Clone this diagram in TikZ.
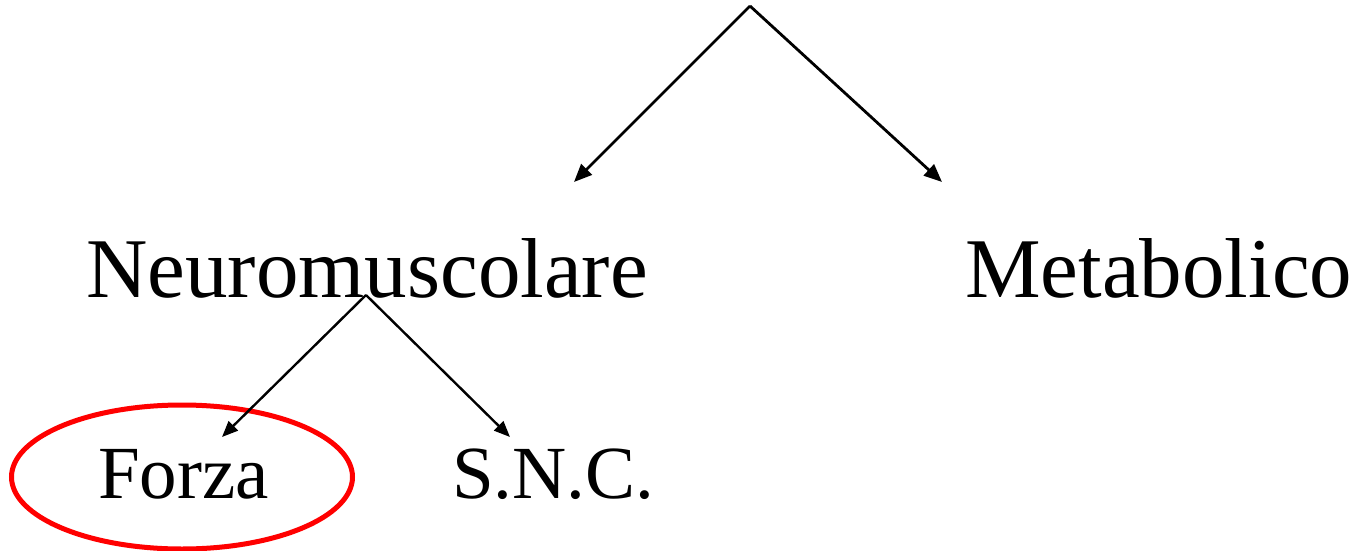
\documentclass[tikz,border=0pt]{standalone}
\usepackage{fontspec}
\setmainfont{Liberation Serif}
\usetikzlibrary{arrows.meta,shapes.geometric}
\tikzset{
  bigtext/.style={anchor=base west,inner sep=0pt,font=\fontsize{85}{100}\selectfont},
  smalltext/.style={anchor=base west,inner sep=0pt,font=\fontsize{75}{88}\selectfont},
  bigarrow/.style={line width=2.8pt,-{Triangle[length=18pt,width=15pt]}},
  smallarrow/.style={line width=2.4pt,-{Triangle[length=16pt,width=13pt]}},
  ring/.style={draw=red,line width=5pt,ellipse,minimum width=341pt,minimum height=144pt,inner sep=0pt}
}
\begin{document}
\begin{tikzpicture}[x=1pt,y=-1pt]
\useasboundingbox[fill=white] (0,0) rectangle (1357,551);
\node[bigtext] (neuro) at (86,297) {Neuromuscolare};
\node[bigtext] (metab) at (965,297) {Metabolico};
\node[smalltext] (forza) at (98,498) {Forza};
\node[smalltext] (snc) at (452,498) {S.N.C.};
\node[ring] (ring) at (182,477) {};
\coordinate (top) at (750,6);
\coordinate (neurotip) at (574,182);
\coordinate (metabtip) at (942,182);
\coordinate (mid) at (366,295);
\coordinate (forzatip) at (222,437);
\coordinate (snctip) at (510,437);
\draw[bigarrow] (top) -- (neurotip);
\draw[bigarrow] (top) -- (metabtip);
\draw[smallarrow] (mid) -- (forzatip);
\draw[smallarrow] (mid) -- (snctip);
\end{tikzpicture}
\end{document}
